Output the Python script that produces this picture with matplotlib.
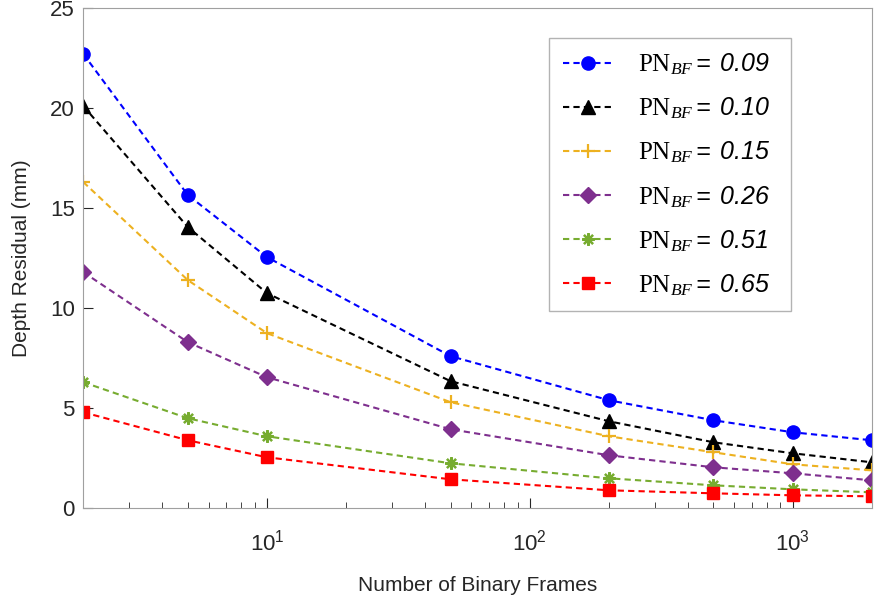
import numpy as np
import matplotlib
matplotlib.use('Agg')
import matplotlib.pyplot as plt
from matplotlib.ticker import LogLocator, NullFormatter

plt.rcParams['font.family'] = ['Liberation Sans', 'DejaVu Sans']
plt.rcParams['mathtext.fontset'] = 'custom'
plt.rcParams['mathtext.rm'] = 'Liberation Serif'
plt.rcParams['mathtext.it'] = 'Liberation Serif:italic'
plt.rcParams['mathtext.sf'] = 'Liberation Sans:italic'

# data
frames = [2, 5, 10, 50, 200, 500, 1000, 2000]
pn_labels = ['0.09', '0.10', '0.15', '0.26', '0.51', '0.65']
res_009 = [22.7, 15.65, 12.55, 7.6, 5.4, 4.4, 3.8, 3.4]
res_010 = [20.1, 14.05, 10.75, 6.35, 4.35, 3.3, 2.75, 2.3]
res_015 = [16.3, 11.4, 8.75, 5.3, 3.6, 2.8, 2.2, 1.9]
res_026 = [11.8, 8.3, 6.55, 3.95, 2.65, 2.05, 1.75, 1.4]
res_051 = [6.3, 4.5, 3.6, 2.25, 1.5, 1.15, 0.95, 0.8]
res_065 = [4.8, 3.4, 2.55, 1.45, 0.9, 0.75, 0.65, 0.6]

series = [res_009, res_010, res_015, res_026, res_051, res_065]
colours = ['#0000ff', '#000000', '#edb120', '#7e2f8e', '#77ac30', '#ff0000']
markers = ['o', '^', '+', 'D', (8, 2, 0), 's']
msizes = [9.5, 10, 10, 8.5, 9, 8]

fig = plt.figure(figsize=(8.76, 6.03), dpi=100)
ax = fig.add_axes([0.095, 0.157, 0.9, 0.83])

for vals, c, m, ms, lab in zip(series, colours, markers, msizes, pn_labels):
    thin = m == '+' or isinstance(m, tuple)
    ax.plot(frames, vals, linestyle=(0, (3, 2)), color=c, marker=m,
            markersize=ms, markeredgewidth=1.6 if thin else 1,
            linewidth=1.5,
            label=r'$\mathrm{PN}_{BF}\mathsf{=\ %s}$' % lab + '\u00a0\u00a0')

ax.set_xscale('log')
ax.set_xlim(2, 2000)
ax.set_ylim(0, 25)
ax.set_yticks([0, 5, 10, 15, 20, 25])
ax.xaxis.set_major_locator(LogLocator(base=10, numticks=10))
ax.xaxis.set_minor_locator(LogLocator(base=10, subs=np.arange(2, 10), numticks=20))
ax.xaxis.set_minor_formatter(NullFormatter())

ax.tick_params(which='both', direction='in', colors='#262626', labelsize=16, pad=6)
ax.tick_params(axis='x', which='major', pad=15)
ax.tick_params(which='major', length=7)
ax.tick_params(which='minor', length=4)
for s in ax.spines.values():
    s.set_color('#a0a0a0')

ax.set_xlabel('Number of Binary Frames', fontsize=15, color='#262626', labelpad=15)
ax.set_ylabel('Depth Residual (mm)', fontsize=15, color='#262626', labelpad=14)

leg = ax.legend(loc='upper right', bbox_to_anchor=(0.898, 0.94), fontsize=18,
                frameon=True, fancybox=False, edgecolor='#a0a0a0',
                handlelength=2.0, handletextpad=1.0, labelspacing=0.74,
                borderpad=0.55, borderaxespad=0)
leg.get_frame().set_linewidth(1)

fig.savefig('out.png', dpi=100)
